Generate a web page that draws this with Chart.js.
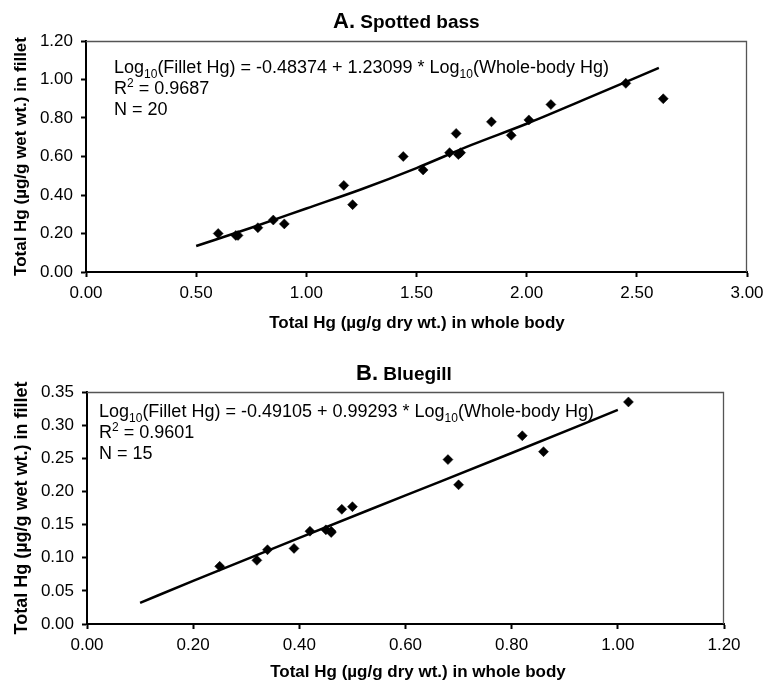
<!DOCTYPE html>
<html>
<head>
<meta charset="utf-8">
<title>Fillet vs whole-body Hg</title>
<style>
  * { margin:0; padding:0; box-sizing:border-box; }
  body { background:#fff; width:771px; height:681px; position:relative; overflow:hidden; }
  canvas { position:absolute; left:0; }
  #chartA { top:0; }
  #chartB { top:340px; }
</style>
</head>
<body>
<canvas id="chartA" width="771" height="340"></canvas>
<canvas id="chartB" width="771" height="341"></canvas>

<script src="https://cdn.jsdelivr.net/npm/chart.js@4.4.1/dist/chart.umd.min.js"></script>
<script>
// --- A. Spotted bass ---
const bassX = [0.60, 0.68, 0.69, 0.78, 0.85, 0.90, 1.17, 1.21, 1.44, 1.53,
               1.65, 1.68, 1.69, 1.70, 1.84, 1.93, 2.01, 2.11, 2.45, 2.62];
const bassY = [0.20, 0.19, 0.19, 0.23, 0.27, 0.25, 0.45, 0.35, 0.60, 0.53,
               0.62, 0.72, 0.61, 0.62, 0.78, 0.71, 0.79, 0.87, 0.98, 0.90];
const bassFitX = [0.50, 0.75, 1.00, 1.25, 1.50, 1.75, 2.00, 2.25, 2.60];
const bassFitY = [0.135, 0.23, 0.33, 0.43, 0.54, 0.66, 0.77, 0.89, 1.06];
const bassXTicks = [0, 0.5, 1.0, 1.5, 2.0, 2.5, 3.0];
const bassYTicks = [0, 0.2, 0.4, 0.6, 0.8, 1.0, 1.2];
const bassEq = ['-0.48374', '1.23099', '0.9687', '20'];

// --- B. Bluegill ---
const gillX = [0.25, 0.32, 0.34, 0.39, 0.42, 0.45, 0.46, 0.46, 0.48, 0.50,
               0.68, 0.70, 0.82, 0.86, 1.02];
const gillY = [0.087, 0.096, 0.112, 0.114, 0.140, 0.142, 0.138, 0.140, 0.173, 0.177,
               0.248, 0.210, 0.284, 0.260, 0.335];
const gillFitX = [0.10, 0.20, 0.40, 0.60, 0.80, 1.00];
const gillFitY = [0.032, 0.065, 0.130, 0.194, 0.258, 0.323];
const gillXTicks = [0, 0.2, 0.4, 0.6, 0.8, 1.0, 1.2];
const gillYTicks = [0, 0.05, 0.10, 0.15, 0.20, 0.25, 0.30, 0.35];
const gillEq = ['-0.49105', '0.99293', '0.9601', '15'];

const xTitle = 'Total Hg (\u00b5g/g dry wt.) in whole body';
const yTitle = 'Total Hg (\u00b5g/g wet wt.) in fillet';

const FONT = "'Liberation Sans', Arial, Helvetica, sans-serif";
Chart.defaults.font.family = FONT;
Chart.defaults.color = '#000';

const pts = (xs, ys) => xs.map((x, i) => ({ x, y: ys[i] }));

// draws text runs: [text, 0=normal | 1=subscript | 2=superscript]
function drawRich(ctx, x, y, runs, size) {
  runs.forEach(([t, k]) => {
    const s = k ? Math.round(size * 0.68) : size;
    ctx.font = s + 'px ' + FONT;
    const dy = k === 1 ? size * 0.28 : k === 2 ? -size * 0.38 : 0;
    ctx.fillText(t, x, y + dy);
    x += ctx.measureText(t).width;
  });
}

const decor = {
  id: 'decor',
  afterDraw(chart, args, o) {
    const { ctx, chartArea: a } = chart;
    ctx.save();
    // thin top and right frame
    ctx.strokeStyle = '#555';
    ctx.lineWidth = 1.3;
    ctx.beginPath();
    ctx.moveTo(a.left, a.top + 0.5);
    ctx.lineTo(a.right - 0.5, a.top + 0.5);
    ctx.lineTo(a.right - 0.5, a.bottom);
    ctx.stroke();

    ctx.fillStyle = '#000';
    ctx.textBaseline = 'alphabetic';
    ctx.textAlign = 'left';
    // panel title
    ctx.font = 'bold 22px ' + FONT;
    ctx.fillText(o.letter, o.titleX, o.titleY);
    const w = ctx.measureText(o.letter).width;
    ctx.font = 'bold 19px ' + FONT;
    ctx.fillText(' ' + o.name, o.titleX + w, o.titleY);

    // x axis title (sits a little right of the plot centre in the original)
    ctx.textAlign = 'center';
    ctx.textBaseline = 'middle';
    ctx.font = 'bold 17px ' + FONT;
    ctx.fillText(xTitle, o.xtX, o.xtY);

    // regression text
    ctx.textAlign = 'left';
    ctx.textBaseline = 'alphabetic';
    const [a0, b1, r2, n] = o.eq;
    const fs = 18, x0 = o.eqX, y0 = o.eqY;
    drawRich(ctx, x0, y0, [['Log', 0], ['10', 1], ['(Fillet Hg) = ' + a0 + ' + ' + b1 + ' * Log', 0],
                           ['10', 1], ['(Whole-body Hg)', 0]], fs);
    drawRich(ctx, x0, y0 + 21, [['R', 0], ['2', 2], [' = ' + r2, 0]], fs);
    drawRich(ctx, x0, y0 + 42, [['N = ' + n, 0]], fs);
    ctx.restore();
  }
};

function makeChart(id, p) {
  return new Chart(document.getElementById(id), {
    type: 'scatter',
    data: {
      datasets: [
        {
          data: pts(p.fx, p.fy),
          showLine: true,
          borderColor: '#000',
          borderWidth: 2.5,
          pointRadius: 0,
          tension: 0.4,
          cubicInterpolationMode: 'monotone',
          order: 2
        },
        {
          data: pts(p.x, p.y),
          pointStyle: 'rectRot',
          pointRadius: 5,
          backgroundColor: '#000',
          borderColor: '#000',
          borderWidth: 0.5,
          order: 1
        }
      ]
    },
    options: {
      responsive: false,
      animation: false,
      layout: { padding: { left: 0, top: p.top, right: p.right, bottom: 0 } },
      plugins: {
        legend: { display: false },
        tooltip: { enabled: false },
        decor: p.decor
      },
      scales: {
        x: {
          type: 'linear',
          min: p.xTicks[0],
          max: p.xTicks[p.xTicks.length - 1],
          afterBuildTicks: ax => { ax.ticks = p.xTicks.map(v => ({ value: v })); },
          afterFit: s => { s.height = p.xh; },
          border: { display: true, color: '#000', width: 2 },
          grid: { drawOnChartArea: false, drawTicks: true, tickLength: 5, tickColor: '#000', tickWidth: 2 },
          ticks: { autoSkip: false, maxRotation: 0, padding: 6, font: { size: 17 },
                   callback: v => v.toFixed(2) }
        },
        y: {
          type: 'linear',
          min: p.yTicks[0],
          max: p.yTicks[p.yTicks.length - 1],
          afterBuildTicks: ax => { ax.ticks = p.yTicks.map(v => ({ value: v })); },
          afterFit: s => { s.width = p.yw; },
          border: { display: true, color: '#000', width: 2 },
          grid: { drawOnChartArea: false, drawTicks: true, tickLength: 5, tickColor: '#000', tickWidth: 2 },
          ticks: { autoSkip: false, padding: 8, font: { size: 17 },
                   callback: v => v.toFixed(2) },
          title: { display: true, text: yTitle, font: { size: p.ytSize, weight: 'bold' },
                   padding: { top: 11, bottom: 0 } }
        }
      }
    },
    plugins: [decor]
  });
}

makeChart('chartA', {
  x: bassX, y: bassY, fx: bassFitX, fy: bassFitY,
  xTicks: bassXTicks, yTicks: bassYTicks,
  top: 41, right: 24, yw: 86, xh: 68, ytSize: 17,
  decor: { letter: 'A.', name: 'Spotted bass', titleX: 333, titleY: 28,
           xtX: 417, xtY: 323, eq: bassEq, eqX: 114, eqY: 73 }
});

makeChart('chartB', {
  x: gillX, y: gillY, fx: gillFitX, fy: gillFitY,
  xTicks: gillXTicks, yTicks: gillYTicks,
  top: 52, right: 47, yw: 87, xh: 57, ytSize: 18,
  decor: { letter: 'B.', name: 'Bluegill', titleX: 356, titleY: 40,
           xtX: 418, xtY: 332, eq: gillEq, eqX: 99, eqY: 77 }
});
</script>
</body>
</html>
